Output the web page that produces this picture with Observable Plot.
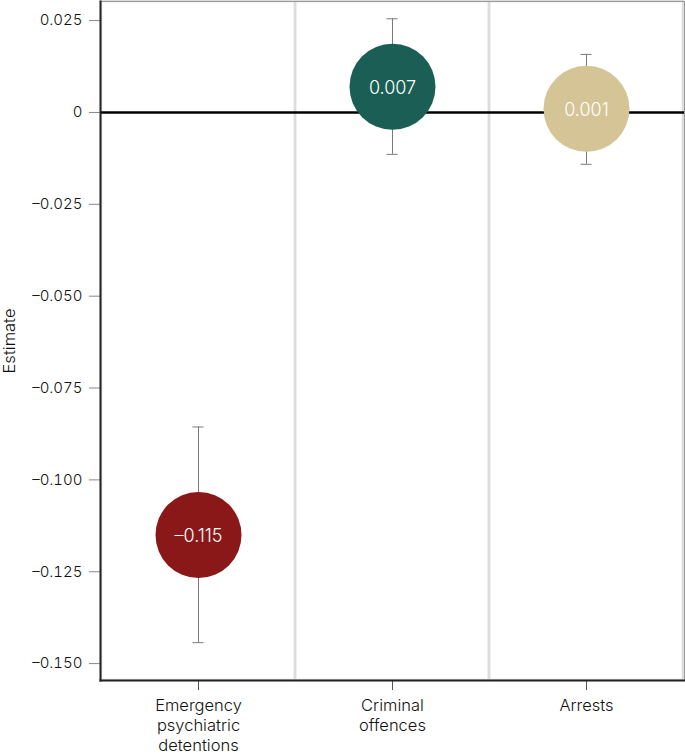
<!DOCTYPE html>
<html>
<head>
<meta charset="utf-8">
<script src="https://cdn.jsdelivr.net/npm/d3@7"></script>
<script src="https://cdn.jsdelivr.net/npm/@observablehq/plot@0.6"></script>
<style>
  body { margin: 0; background: #fff; }
  svg { font-family: Inter, "Noto Sans", sans-serif; }
</style>
</head>
<body>
<div id="chart"></div>
<script>
const categories = ["Emergency psychiatric detentions", "Criminal offences", "Arrests"];
const tickLabels = ["Emergency\npsychiatric\ndetentions", "Criminal\noffences", "Arrests"];
const estimates = [-0.115, 0.007, 0.001];
const lower = [-0.1443, -0.0114, -0.0141];
const upper = [-0.0856, 0.0255, 0.0158];
const colors = ["#8b1818", "#1a5e55", "#d4c496"];
const yTicks = [0.025, 0, -0.025, -0.050, -0.075, -0.100, -0.125, -0.150];
const yDomain = [-0.1546, 0.0302];

const data = categories.map((c, i) => ({name: c, est: estimates[i], lo: lower[i], hi: upper[i]}));
const fmt = d => d === 0 ? "0" : (d < 0 ? "–" : "") + d3.format(".3f")(Math.abs(d));

const chart = Plot.plot({
  width: 685,
  height: 755,
  marginLeft: 100,
  marginRight: 1,
  marginTop: 1,
  marginBottom: 75,
  x: {domain: categories, padding: 0, axis: null},
  y: {domain: yDomain, axis: null},
  color: {domain: categories, range: colors},
  marks: [
    Plot.barY(categories, {x: d => d, y1: yDomain[0], y2: yDomain[1], fill: "none", stroke: "#dcdcdc", strokeWidth: 2.5}),
    Plot.frame({stroke: "#9a9a9a", strokeWidth: 1}),
    Plot.ruleY([0], {stroke: "#000", strokeWidth: 2.5}),
    Plot.ruleX(data, {x: "name", y1: "lo", y2: "hi", stroke: "#7a7a7a", strokeWidth: 1}),
    Plot.tickY(data, {x: "name", y: "lo", stroke: "#7a7a7a", insetLeft: 91.5, insetRight: 91.5}),
    Plot.tickY(data, {x: "name", y: "hi", stroke: "#7a7a7a", insetLeft: 91.5, insetRight: 91.5}),
    Plot.dot(data, {x: "name", y: "est", r: 43, fill: "name", stroke: "none"}),
    Plot.text(data, {x: "name", y: "est", text: d => fmt(d.est), fill: "#fff", fontSize: 18, fontWeight: 300, dy: 1}),
    Plot.axisY({ticks: yTicks, tickFormat: fmt, tickSize: 11, tickPadding: 7, fontSize: 15, fontWeight: 300, stroke: "#888", fill: "#111", label: null}),
    Plot.axisX({tickFormat: (d) => tickLabels[categories.indexOf(d)], tickSize: 10, tickPadding: 6, fontSize: 16.5, fontWeight: 300, lineHeight: 1.22, stroke: "#555", fill: "#111", label: null}),
    Plot.frame({anchor: "left", stroke: "#222", strokeWidth: 2}),
    Plot.frame({anchor: "bottom", stroke: "#222", strokeWidth: 2}),
    Plot.text(["Estimate"], {frameAnchor: "left", textAnchor: "middle", lineAnchor: "middle", rotate: -90, dx: -91, fontSize: 16.5, fontWeight: 300, fill: "#111", text: d => d})
  ]
});
document.getElementById("chart").appendChild(chart);
</script>
</body>
</html>
